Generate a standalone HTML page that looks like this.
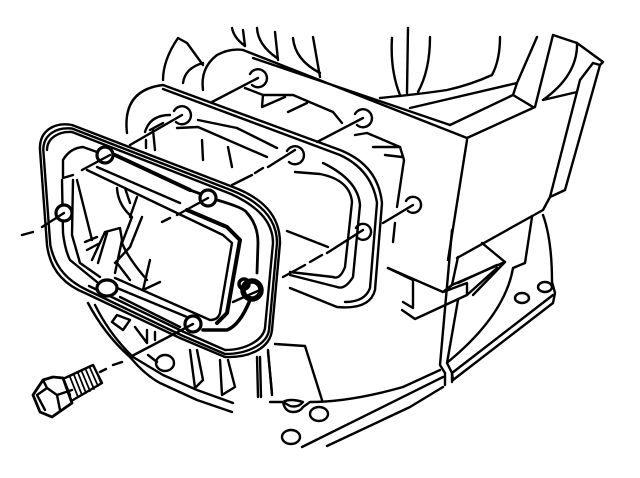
<!DOCTYPE html>
<html><head><meta charset="utf-8"><style>html,body{margin:0;padding:0;background:#fff;width:640px;height:478px;overflow:hidden}svg{display:block}</style></head>
<body>
<svg width="640" height="478" viewBox="0 0 640 478" fill="none" stroke="#000" stroke-width="2.4" stroke-linecap="round" stroke-linejoin="round">
<!-- top background curves -->
<path d="M232 28Q234 38 245 46M243 30L245 46M257 28Q258 45 277 58M275 32L278 60M293 38Q295 60 320 73M313 37L320 77"/>
<path d="M163 80Q163 60 178 38L187 43L203 65M183 83Q185 68 203 63M203 90Q200 68 217 55Q230 48 243 50"/>
<path d="M392 38Q390 70 400 95M408 28L407 93M430 37Q430 70 418 92M500 37Q500 60 492 75Q470 85 447 90Q420 94 380 98"/>
<!-- rear plate top edge -->
<path d="M243 50L467 138M253 58L450 125"/>
<!-- housing -->
<path d="M410 108L517 83L537 37M450 125L513 95L517 83M513 95L533 107M467 138L535 107L553 35L577 43L603 62L600 65L565 190L550 197L543 210L457 258"/>
<path d="M467 140L448 260M593 63L580 80L550 197M600 65L593 63M577 43Q578 75 543 100L577 92L580 80"/>
<path d="M482 243L505 262L452 285M458 257L452 285M497 265L458 283M532 217L525 263L513 268Q505 315 448 362"/>
<path d="M543 215Q552 240 552 282L555 293L553 303L453 380L452 373L553 295"/>
<!-- vertical strip + lower rim -->
<path d="M452 230L440 365L445 373V385M458 300L447 363L452 373V382"/>
<path d="M270 402H283Q285 412 293 412Q300 412 303 407L310 402Q350 402 403 387L440 370M302 447L443 377M327 446L410 407L443 387"/>
<path d="M283 402Q290 398 303 402Q298 408 290 406Z"/>
<!-- bracket -->
<path d="M388 268L443 292L467 283V295L415 319L402 310M413 280V308L403 302M443 292L452 285M473 295L505 262M467 295L497 268"/>
<path d="M275 344L305 346L322 400M268 352L272 393"/>
<!-- rear plate inner -->
<path d="M245 88L263 95L293 95L333 112L342 123M263 95L262 107L285 97M288 112L307 103"/>
<path d="M355 135L367 133L400 147L404 160L397 207M373 147L400 147M385 155L402 157M395 223L393 242"/>
<path d="M287 231L328 247M388 268L413 280"/>
<!-- gasket -->
<path d="M127 133Q122 90 163 85L340 150Q378 165 382 203L375 290Q370 310 337 307L290 288"/>
<path d="M163 89L340 155Q372 170 377 203L370 288Q365 302 345 302"/>
<path d="M198 120L237 128L277 148M177 128L198 127L267 157"/>
<path d="M295 172L320 174Q350 180 352 202L345 267Q340 280 333 277L290 272M323 163Q358 180 360 205L353 277Q345 290 337 287L290 275"/>
<path d="M145 132Q150 115 170 115M150 130L163 123M146 140V148M153 130L155 150M202 140L203 160M228 147L232 167"/>
<!-- lower area -->
<path d="M88 303Q105 335 130 357Q145 375 160 383L197 400L232 412M95 305Q110 335 133 357L163 375L197 390L233 403"/>
<path d="M112 322L117 315L130 320L123 330L112 322M135 327L147 343M147 330V343M155 332V340M148 355L157 362"/>
<path d="M190 350L195 388M197 350L203 380L195 388M220 360L222 395M228 360L235 387L222 395M257 357L258 397M260 357L261 397M268 350L272 395"/>
<ellipse cx="165" cy="363" rx="9" ry="8"/>
<!-- front plate -->
<path fill="#fff" d="M40 150C39 130 55 122 72 125L233 187C262 198 280 215 280 243L272 330C270 348 250 358 225 357L180 338L85 293C65 285 50 270 47 245Z"/>
<path d="M43.3 150C43.3 134 57 127 72 128.5L232 190.5C258 201 277 217 277 243L269 330C267 344 248 354 225 354L182 335.5L87 290C68 281 55 268 50.3 245Z"/>
<path d="M47 150C47 138 59 131 72 132L231 194C255 205 273 220 273 243L265 328C263 340 246 350 225 350L184 332L89 286"/>
<path d="M63 177V160Q70 148 83 147L97 152M62 180L63 233Q65 250 70 260L97 282M73 180L72 235L80 263L100 277"/>
<path d="M115 278L210 320Q218 320 220 313L232 243L223 235L87 170M117 288L187 317M120 297L180 327M97 167L180 203"/>
<path stroke-width="4" d="M115 155L190 190M187 210L227 227L240 240L227 313L217 323"/>
<path stroke-width="2.8" d="M190 190L217 200Q245 208 247 213Q258 225 258 243L257 273"/>
<path stroke-width="3.6" d="M203 330H227Q240 325 250 300"/>
<path d="M77 180L92 240M85 242L97 237M87 250L100 243M92 260L105 232L120 228L122 240L115 273M98 263L107 233M117 188Q118 205 132 217L122 243Q128 258 147 280M125 188L130 203M137 197L130 217M142 217L130 247L115 263M117 263L130 280M150 260L143 290L160 282"/>
<!-- holes -->
<g fill="#fff">
<circle cx="105" cy="155" r="8" stroke-width="3.2"/>
<circle cx="64" cy="213" r="8" stroke-width="3.2"/>
<circle cx="208" cy="198" r="8" stroke-width="3.2"/>
<ellipse cx="107" cy="288" rx="10" ry="8" stroke-width="3.2"/>
<circle cx="193" cy="324" r="8" stroke-width="3.2"/>
</g>
<circle cx="252" cy="290" r="9" stroke-width="5.5"/>
<circle cx="244" cy="284" r="5" stroke-width="3.5"/>
<path d="M174 111A9 9 0 1 1 176 122M287 151A9 9 0 1 1 289 162M356 228A8 8 0 1 1 358 238"/>
<path d="M250 74A9 9 0 1 1 252 85M355 114A9 9 0 1 1 357 125M406 201A8 8 0 1 1 408 211"/>
<ellipse cx="545" cy="287" rx="7" ry="5"/><ellipse cx="522" cy="298" rx="7" ry="5"/>
<ellipse cx="319" cy="414" rx="9" ry="7"/><ellipse cx="291" cy="437" rx="9" ry="7"/>
<!-- leader lines -->
<path d="M22 235L33 232M42 227L64 213M82 170L110 155M63 178L73 175M162 222L170 218M177 215L208 198M232 185L252 175M255 173L263 168M268 167L295 150"/>
<path d="M130 145L182 115M212 102L258 78M317 142L363 118M383 223L413 205M283 277L305 265M310 262L322 255M327 253L363 230M233 302L260 290"/>
<path d="M100 372L106 369M113 365L122 362M130 357L193 324"/>
<!-- bolt -->
<path fill="#fff" stroke-width="2.8" d="M33 395L43 380L53 377L63 378L72 403L52 417L40 412Z"/>
<path d="M37 395L47 388L57 395L60 410M47 388L43 380M57 395L72 390M45 410L37 395M63 378L70 395"/>
<path d="M65 378L93 365L102 383L73 400"/>
<path stroke-width="1.7" d="M70 377L78 397M74 375L82 395M78 373L86 393M82 372L90 391M86 370L94 389M90 368L98 386M94 366L101 383"/>
</svg>
</body></html>
